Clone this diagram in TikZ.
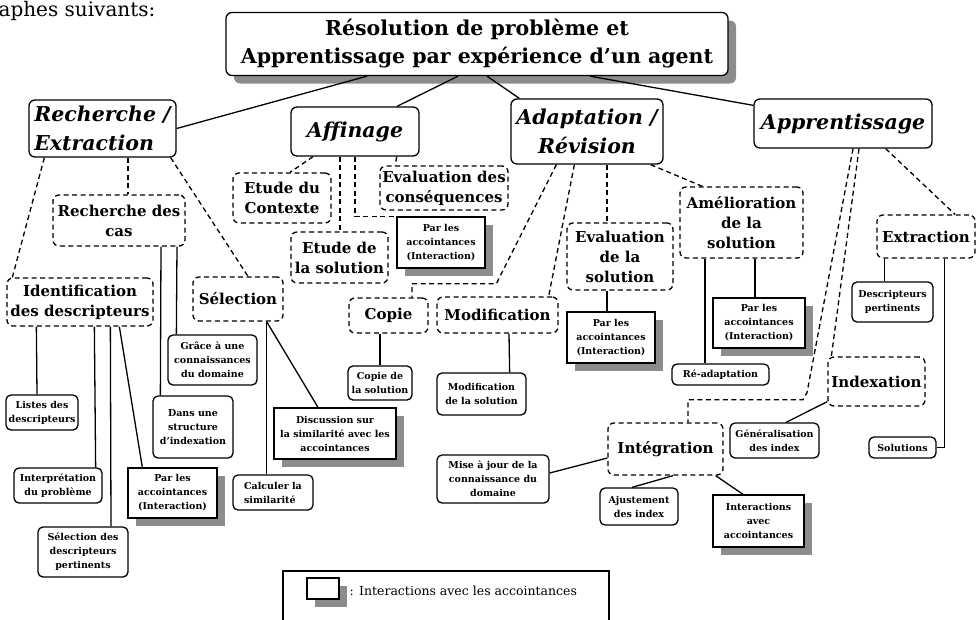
\documentclass[tikz,border=0pt]{standalone}
\usepackage{fontspec}
\setmainfont{DejaVu Serif}
\usetikzlibrary{calc, shadows}

\begin{document}
\begin{tikzpicture}[
        x=1pt, y=-1pt,
        line width=1.3pt,
        titre/.style={draw, rounded corners=6pt, fill=white, align=center, inner sep=0pt,
            font=\bfseries\fontsize{20.5}{28}\selectfont,
            drop shadow={shadow xshift=8pt, shadow yshift=-8pt, opacity=1, fill=black!45}},
        tete/.style={draw, rounded corners=6pt, fill=white, inner sep=0pt,
            font=\bfseries\itshape\fontsize{20.5}{29}\selectfont},
        etape/.style={draw, dash pattern=on 5pt off 3.5pt, rounded corners=6pt, fill=white,
            align=center, inner sep=0pt, font=\bfseries\fontsize{15}{20}\selectfont},
        feuille/.style={draw, rounded corners=5pt, fill=white, align=center, inner sep=0pt,
            font=\bfseries\fontsize{9.5}{14}\selectfont},
        accoint/.style={feuille, sharp corners,
            drop shadow={shadow xshift=8pt, shadow yshift=-8pt, opacity=1, fill=black!45}},
        lienpt/.style={dash pattern=on 5pt off 3.5pt}
    ]

    % === CADRE ===
    \useasboundingbox (0,0) rectangle (977,619);
    \clip (0,0) rectangle (977,619);

    \node[anchor=base west, inner sep=0pt, font=\fontsize{20}{24}\selectfont] (entete) at (-2,16) {aphes suivants:};

    % === TITRE ===
    \node[titre, minimum width=502pt, minimum height=63pt] (titre) at (477,44)
        {Résolution de problème et\\Apprentissage par expérience d'un agent};

    % === ETAPES PRINCIPALES ===
    \node[tete, align=left, minimum width=147pt, minimum height=57pt] (rech) at (102.5,128.5) {Recherche /\\Extraction};
    \node[tete, minimum width=128pt, minimum height=49pt] (affin) at (355,131.5) {Affinage};
    \node[tete, align=center, minimum width=152pt, minimum height=65pt] (adapt) at (587,131.5) {Adaptation /\\Révision};
    \node[tete, minimum width=178pt, minimum height=49pt] (appren) at (843,123.5) {Apprentissage};

    % === SOUS-ETAPES (pointillés) ===
    \node[etape, minimum width=132pt, minimum height=51pt] (cas) at (119,220.5) {Recherche des\\cas};
    \node[etape, minimum width=146pt, minimum height=48pt] (ident) at (80,302) {Identification\\des descripteurs};
    \node[etape, minimum width=90pt, minimum height=44pt] (selec) at (238,299) {Sélection};
    \node[etape, minimum width=98pt, minimum height=50pt] (ctx) at (282,198) {Etude du\\Contexte};
    \node[etape, minimum width=97pt, minimum height=51pt] (etsol) at (339.5,257.5) {Etude de\\la solution};
    \node[etape, minimum width=128pt, minimum height=44pt] (evcons) at (444,188) {Evaluation des\\conséquences};
    \node[etape, minimum width=79pt, minimum height=35pt] (copie) at (388.5,315.5) {Copie};
    \node[etape, minimum width=121pt, minimum height=36pt] (modif) at (497.5,315) {Modification};
    \node[etape, minimum width=106pt, minimum height=67pt] (evsol) at (620,256.5) {Evaluation\\de la\\solution};
    \node[etape, minimum width=123pt, minimum height=71pt] (amel) at (741.5,222.5) {Amélioration\\de la\\solution};
    \node[etape, minimum width=98pt, minimum height=43pt] (extr) at (926,236.5) {Extraction};
    \node[etape, minimum width=97pt, minimum height=49pt] (index) at (876.5,381.5) {Indexation};
    \node[etape, minimum width=115pt, minimum height=52pt] (integ) at (665.5,449) {Intégration};

    % === FEUILLES ===
    \node[feuille, minimum width=72pt, minimum height=35pt] (listes) at (42,412.5) {Listes des\\descripteurs};
    \node[feuille, minimum width=88pt, minimum height=35pt] (interp) at (58,485.5) {Interprétation\\du problème};
    \node[feuille, minimum width=90pt, minimum height=50pt] (seldesc) at (83,552) {Sélection des\\descripteurs\\pertinents};
    \node[feuille, minimum width=89pt, minimum height=50pt] (grace) at (212.5,360) {Grâce à une\\connaissances\\du domaine};
    \node[feuille, minimum width=80pt, minimum height=62pt] (dans) at (193,427) {Dans une\\structure\\d'indexation};
    \node[feuille, align=left, minimum width=80pt, minimum height=35pt] (calc) at (273,492.5) {Calculer la\\similarité};
    \node[feuille, minimum width=64pt, minimum height=34pt] (copsol) at (380,383) {Copie de\\la solution};
    \node[feuille, minimum width=89pt, minimum height=42pt] (modsol) at (481.5,394) {Modification\\de la solution};
    \node[feuille, minimum width=97pt, minimum height=21pt] (readapt) at (720.5,374.5) {Ré-adaptation};
    \node[feuille, minimum width=81pt, minimum height=40pt] (descpert) at (892.5,302) {Descripteurs\\pertinents};
    \node[feuille, minimum width=67pt, minimum height=21pt] (solut) at (902.5,447.5) {Solutions};
    \node[feuille, minimum width=89pt, minimum height=35pt] (genidx) at (774.5,440.5) {Généralisation\\des index};
    \node[feuille, minimum width=112pt, minimum height=48pt] (miseaj) at (493,479) {Mise à jour de la\\connaissance du\\domaine};
    \node[feuille, minimum width=78pt, minimum height=37pt] (ajust) at (639,506.5) {Ajustement\\des index};

    % === INTERACTIONS AVEC LES ACCOINTANCES ===
    \node[accoint, minimum width=89pt, minimum height=50pt] (acc1) at (172.5,493) {Par les\\accointances\\(Interaction)};
    \node[accoint, minimum width=88pt, minimum height=51pt] (acc2) at (441,242.5) {Par les\\accointances\\(Interaction)};
    \node[accoint, minimum width=122pt, minimum height=51pt] (disc) at (335,433.5) {Discussion sur\\la similarité avec les\\accointances};
    \node[accoint, minimum width=88pt, minimum height=51pt] (acc3) at (611,337.5) {Par les\\accointances\\(Interaction)};
    \node[accoint, minimum width=92pt, minimum height=50pt] (acc4) at (759,323) {Par les\\accointances\\(Interaction)};
    \node[accoint, minimum width=91pt, minimum height=52pt] (interac) at (758.5,521) {Interactions\\avec\\accointances};

    % === LIENS DU TITRE ===
    \draw ($(titre.south)+(-110,0)$) -- (rech.east);
    \draw ($(titre.south)+(-19,0)$) -- ($(affin.north)+(42,0)$);
    \draw ($(titre.south)+(10,0)$) -- ($(adapt.north west)+(9,0)$);
    \draw ($(titre.south)+(113,0)$) -- ($(appren.north west)+(0,7)$);

    % Recherche / Extraction
    \draw[lienpt] ($(rech.south west)+(16,0)$) -- ($(ident.north west)+(6,0)$);
    \draw[lienpt] ($(rech.south)+(25.5,0)$) -- ($(cas.north)+(9,0)$);
    \draw[lienpt] ($(rech.south east)+(-6,0)$) -- ($(selec.north)+(10,0)$);
    \draw ($(cas.south)+(58,0)$) -- ($(grace.north west)+(9,0)$);
    \draw ($(cas.south)+(42,0)$) -- ($(dans.north west)+(8,0)$);
    \draw ($(ident.south west)+(30,0)$) -- ($(listes.north)+(-5,0)$);
    \draw ($(ident.south west)+(88,0)$) -- ($(interp.north east)+(-7,0)$);
    \draw ($(ident.south west)+(104,0)$) -- ($(seldesc.north)+(28,0)$);
    \draw ($(ident.south west)+(113,0)$) -- ($(acc1.north west)+(15,0)$);
    \draw ($(selec.south east)+(-17,0)$) -- ($(calc.north east)+(-47,0)$);
    \draw ($(selec.south east)+(-17,0)$) -- ($(disc.north)+(-17,0)$);

    % Affinage
    \draw[lienpt] ($(affin.south)+(-42,0)$) -- ($(ctx.north)+(8,0)$);
    \draw[lienpt] ($(affin.south)+(-15,0)$) -- ($(etsol.north)+(0.5,0)$);
    \draw[lienpt] (affin.south) |- (acc2.north west);
    \draw[lienpt] ($(affin.south east)+(-23,0)$) -- ($(evcons.north west)+(16,0)$);

    % Adaptation / Révision
    \draw[lienpt] ($(adapt.south west)+(46,0)$) -- ++(-60,119) -| ($(copie.north)+(23.5,0)$);
    \draw[lienpt] ($(adapt.south west)+(64,0)$) -- ($(modif.north east)+(-10,0)$);
    \draw[lienpt] ($(adapt.south)+(20,0)$) -- ($(evsol.north)+(-13,0)$);
    \draw[lienpt] ($(adapt.south east)+(-13,0)$) -- ($(amel.north west)+(23,0)$);
    \draw ($(copie.south)+(-8.5,0)$) -- (copsol.north);
    \draw ($(modif.south)+(11.5,0)$) -- ($(modsol.north east)+(-17,0)$);
    \draw ($(evsol.south)+(-13,0)$) -- ($(acc3.north)+(-4,0)$);
    \draw ($(amel.south)+(13.5,0)$) -- ($(acc4.north)+(-4,0)$);
    \draw ($(amel.south)+(-36.5,0)$) -- ($(readapt.north)+(-15.5,0)$);

    % Apprentissage
    \draw[lienpt] ($(appren.south)+(10,0)$) -- ++(-46,244) -- ++(-4,7) -| ($(integ.north)+(22.5,0)$);
    \draw[lienpt] ($(appren.south)+(16,0)$) -- ($(index.north west)+(4,0)$);
    \draw[lienpt] ($(appren.south east)+(-47,0)$) -- ($(extr.north)+(29,0)$);
    \draw ($(extr.south west)+(8,0)$) -- ($(descpert.north west)+(33,0)$);
    \draw ($(extr.south east)+(-31,0)$) |- (solut.east);
    \draw ($(index.south west)+(0,-5)$) -- ($(genidx.north)+(11.5,0)$);
    \draw ($(integ.west)+(0,9)$) -- ($(miseaj.east)+(0,-6)$);
    \draw ($(integ.south)+(7.5,0)$) -- ($(ajust.north)+(-7,0)$);
    \draw ($(integ.south east)+(-8,0)$) -- ($(interac.north)+(-15.5,0)$);

    % === LEGENDE ===
    \node[draw, minimum width=326pt, minimum height=69pt] (legende) at (446,605.5) {};
    \node[accoint, minimum width=32pt, minimum height=21pt] (icone) at (323,588.5) {};
    \node[anchor=west, inner sep=0pt, font=\fontsize{12.5}{15}\selectfont] (legtexte) at (349,591) {: Interactions avec les accointances};

\end{tikzpicture}
\end{document}
